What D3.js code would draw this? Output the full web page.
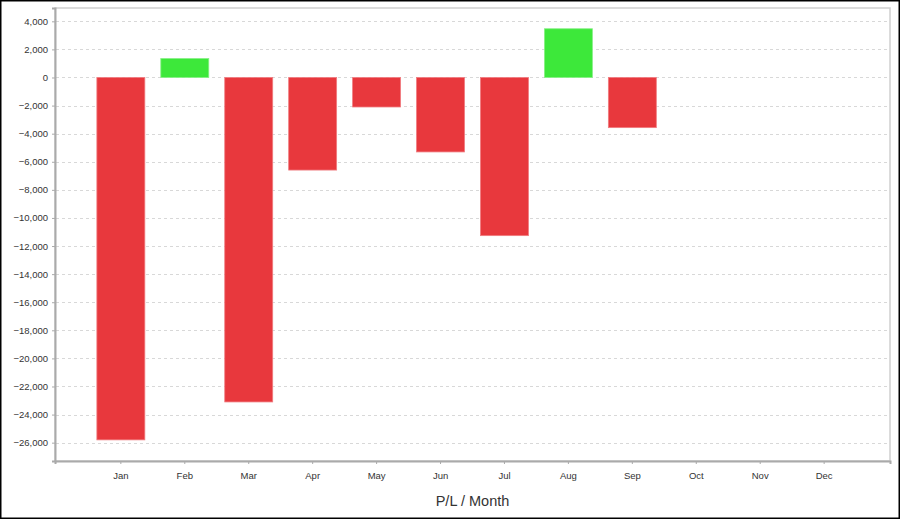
<!DOCTYPE html>
<html>
<head>
<meta charset="utf-8">
<script src="https://cdn.jsdelivr.net/npm/d3@7"></script>
<style>
html,body{margin:0;padding:0;background:#fff;}
svg{display:block;}
</style>
</head>
<body>
<svg id="chart" width="900" height="519"></svg>
<script>
const months = ["Jan","Feb","Mar","Apr","May","Jun","Jul","Aug","Sep","Oct","Nov","Dec"];
const plValues = [-25800, 1350, -23100, -6590, -2100, -5300, -11260, 3470, -3570, null, null, null];
const yTicks = [4000,2000,0,-2000,-4000,-6000,-8000,-10000,-12000,-14000,-16000,-18000,-20000,-22000,-24000,-26000];
const axisTitle = "P/L / Month";

(function(){
const svg = d3.select("#chart");
const W = 900, H = 519;
const pL = 55, pR = 890, pT = 8, pB = 461;

// outer frame
svg.append("rect").attr("x",0.75).attr("y",0.75).attr("width",W-1.5).attr("height",H-1.5)
  .attr("fill","#fff").attr("stroke","#000").attr("stroke-width",1.5);

const y = d3.scaleLinear().domain([-27305, 4948]).range([pB, pT]);
const x = d3.scaleBand().domain(months).range([pL, pR]).paddingInner(0.25).paddingOuter(0.655);

// plot border
svg.append("rect").attr("x",pL).attr("y",pT).attr("width",pR-pL).attr("height",pB-pT)
  .attr("fill","none").attr("stroke","#cfcfcf").attr("stroke-width",1.5);

// grid
svg.append("g").selectAll("line").data(yTicks).join("line")
  .attr("x1",pL+1).attr("x2",pR-1)
  .attr("y1",d=>Math.round(y(d))+0.5).attr("y2",d=>Math.round(y(d))+0.5)
  .attr("stroke","#d8d8d8").attr("stroke-width",1).attr("stroke-dasharray","3,3");

// bars
const data = months.map((m,i)=>({m, v: plValues[i]})).filter(d=>d.v!==null);
svg.append("g").selectAll("rect").data(data).join("rect")
  .attr("x",d=>x(d.m)).attr("width",x.bandwidth())
  .attr("y",d=>y(Math.max(0,d.v))).attr("height",d=>Math.abs(y(d.v)-y(0)))
  .attr("fill",d=>d.v<0?"#e8383d":"#3de83a")
  .attr("stroke",d=>d.v<0?"#f07b7f":"#86f084").attr("stroke-width",0.8);

const font = "Arial, 'Liberation Sans', sans-serif";
// y axis
const yAxis = d3.axisLeft(y).tickValues(yTicks).tickSize(3).tickPadding(4)
  .tickFormat(d3.format(","));
const gy = svg.append("g").attr("transform",`translate(${pL},0)`).call(yAxis);
gy.select(".domain").attr("stroke","#aaa").attr("stroke-width",2);
gy.selectAll(".tick line").attr("stroke","#aaa");
gy.selectAll(".tick text").attr("fill","#333").style("font-family",font).style("font-size","9.5px");

// x axis
const xAxis = d3.axisBottom(x).tickSize(3).tickPadding(8);
const gx = svg.append("g").attr("transform",`translate(0,${pB})`).call(xAxis);
gx.select(".domain").attr("stroke","#aaa").attr("stroke-width",2);
gx.selectAll(".tick line").attr("stroke","#aaa");
gx.selectAll(".tick text").attr("fill","#333").style("font-family",font).style("font-size","9.5px");

svg.append("text").attr("x",(pL+pR)/2).attr("y",506).attr("text-anchor","middle")
  .attr("fill","#333").style("font-family",font).style("font-size","14.5px")
  .text(axisTitle);
})();
</script>
</body>
</html>
